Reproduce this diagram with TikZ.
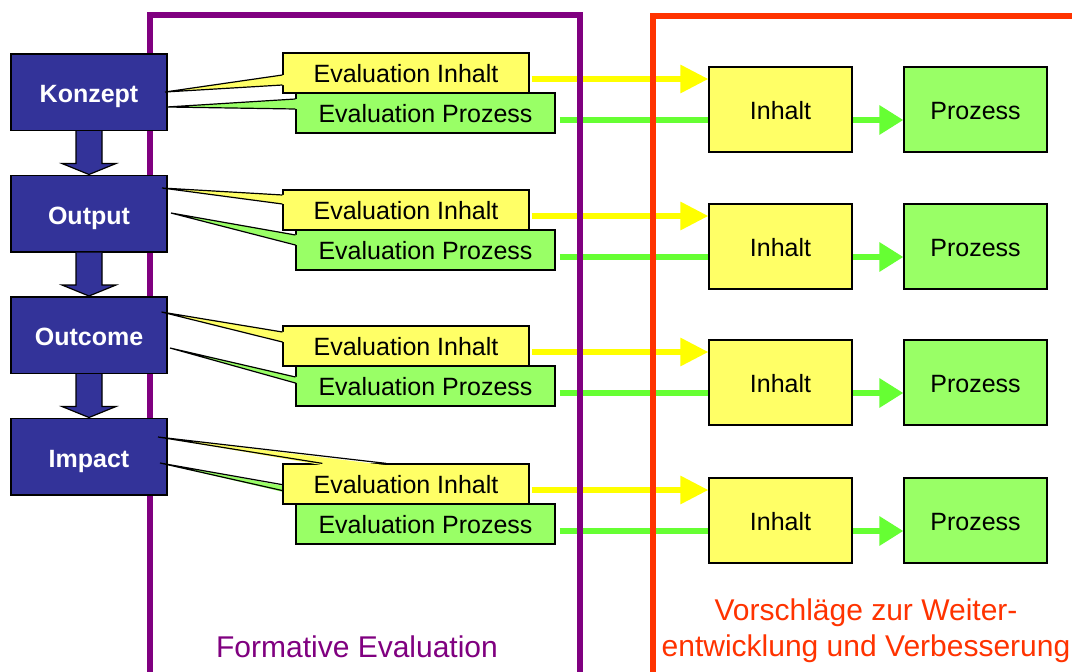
\documentclass[tikz,border=0pt]{standalone}
\usepackage{fontspec}
\setmainfont{Liberation Sans}
\usetikzlibrary{arrows.meta,calc}
\definecolor{cblue}{HTML}{333399}
\definecolor{cyfill}{HTML}{FFFF66}
\definecolor{cgfill}{HTML}{99FF66}
\definecolor{cyarr}{HTML}{FFFF00}
\definecolor{cgarr}{HTML}{66FF33}
\definecolor{cpurple}{HTML}{800080}
\definecolor{corange}{HTML}{FF3300}
\pgfdeclarelayer{bglayer}
\pgfdeclarelayer{arrowlayer}
\pgfdeclarelayer{framelayer}
\pgfsetlayers{bglayer,arrowlayer,framelayer,main}
\tikzset{
  stagebox/.style={draw=black, line width=1.5pt, fill=cblue, text=white,
    font=\fontsize{25}{30}\selectfont\bfseries, minimum width=156pt,
    minimum height=76.5pt, inner sep=0pt, text height=25pt, text depth=4pt},
  evalin/.style={draw=black, line width=1.2pt, fill=cyfill,
    font=\fontsize{25}{30}\selectfont, minimum width=246pt,
    minimum height=40pt, inner sep=0pt, text height=19pt, text depth=0pt},
  evalpr/.style={evalin, fill=cgfill, minimum width=259pt},
  resin/.style={draw=black, line width=1.2pt, fill=cyfill,
    font=\fontsize{25}{30}\selectfont, minimum width=143pt,
    minimum height=85pt, inner sep=0pt, text height=19pt, text depth=0pt},
  respr/.style={resin, fill=cgfill},
  yarr/.style={draw=cyarr, line width=6pt, -{Triangle[length=28pt,width=27pt]}},
  garr/.style={draw=cgarr, line width=6pt, -{Triangle[length=24pt,width=28pt]}},
  blockarr/.style={draw=black, line width=1.2pt, fill=cblue, line join=miter},
  wedgeline/.style={draw=black, line width=1.2pt},
  framepurple/.style={draw=cpurple, line width=6pt},
  frameorange/.style={draw=corange, line width=6pt},
  labeltext/.style={font=\fontsize{30}{36}\selectfont, align=center, inner sep=0pt},
}
\begin{document}
\begin{tikzpicture}[x=1pt,y=-1pt]
\useasboundingbox (0,0) rectangle (1072,672);
\begin{pgfonlayer}{bglayer}
  \fill[white] (0,0) rectangle (1072,672);
\end{pgfonlayer}

% stage boxes (left column)
\node[stagebox] (s1) at (89,92)    {Konzept};
\node[stagebox] (s2) at (89,213.5) {Output};
\node[stagebox] (s3) at (89,335)   {Outcome};
\node[stagebox] (s4) at (89,456.5) {Impact};
\foreach \a/\b in {s1/s2,s2/s3,s3/s4}
  \draw[blockarr] ($(\a.south)+(-13,0)$) -- ($(\b.north)+(-13,-11)$)
    -- ($(\b.north)+(-27,-11)$) -- (\b.north) -- ($(\b.north)+(27,-11)$)
    -- ($(\b.north)+(13,-11)$) -- ($(\a.south)+(13,0)$);

% result boxes
\foreach \i/\o in {1/0,2/137,3/273,4/411}{
  \node[resin] (ri\i) at (780.5,109.5+\o) {Inhalt};
  \node[respr] (rp\i) at (975.5,109.5+\o) {Prozess};
}

% Evaluation Prozess callouts (green)
\foreach \i/\o in {1/0,2/137,3/273,4/411}
  \node[evalpr] (ep\i) at (425.5,113+\o) {Evaluation Prozess};
\coordinate (tp1) at (167,107);
\coordinate (tp2) at (171,213);
\coordinate (tp3) at (170,348);
\coordinate (tp4) at (160,463);
\foreach \i/\ba/\bb in {1/-14/-4,2/-15/-5,3/-9/-3}{
  \fill[cgfill] (tp\i) -- ([shift={(1.8,\ba)}]ep\i.west) -- ([shift={(1.8,\bb)}]ep\i.west) -- cycle;
  \draw[wedgeline] ([shift={(0,\ba)}]ep\i.west) -- (tp\i) -- ([shift={(0,\bb)}]ep\i.west);
}
\fill[cgfill] (tp4) -- ([shift={(44,1.8)}]ep4.north west) -- ([shift={(93,1.8)}]ep4.north west) -- cycle;
\draw[wedgeline] ([shift={(44,0)}]ep4.north west) -- (tp4) -- ([shift={(93,0)}]ep4.north west);

% Evaluation Inhalt callouts (yellow)
\foreach \i/\o in {1/0,2/137,3/273,4/411}
  \node[evalin] (ei\i) at (406,73+\o) {Evaluation Inhalt};
\coordinate (ti1) at (165,92);
\coordinate (ti2) at (162,188);
\coordinate (ti3) at (161.5,312);
\coordinate (ti4) at (158,437);
\foreach \i/\ba/\bb in {1/2/12,2/-15/-6,3/-14/-4}{
  \fill[cyfill] (ti\i) -- ([shift={(1.8,\ba)}]ei\i.west) -- ([shift={(1.8,\bb)}]ei\i.west) -- cycle;
  \draw[wedgeline] ([shift={(0,\ba)}]ei\i.west) -- (ti\i) -- ([shift={(0,\bb)}]ei\i.west);
}
\fill[cyfill] (ti4) -- ([shift={(40,1.8)}]ei4.north west) -- ([shift={(104,1.8)}]ei4.north west) -- cycle;
\draw[wedgeline] ([shift={(40,0)}]ei4.north west) -- (ti4) -- ([shift={(104,0)}]ei4.north west);

% arrows (below frames and boxes)
\begin{pgfonlayer}{arrowlayer}
\foreach \i in {1,2,3,4}{
  \coordinate (ys\i) at ([shift={(2,6)}]ei\i.east);
  \draw[yarr] (ys\i) -- (ys\i -| ri\i.west);
  \coordinate (gs\i) at ([shift={(4,7)}]ep\i.east);
  \draw[garr] (gs\i) -- (gs\i -| rp\i.west);
}
\end{pgfonlayer}

% frames
\begin{pgfonlayer}{framelayer}
\coordinate (fp1) at (150,672);
\coordinate (fp2) at (150,15);
\coordinate (fp3) at (580,15);
\coordinate (fp4) at (580,672);
\draw[framepurple] (fp1) -- (fp2) -- (fp3) -- (fp4);
\coordinate (fo1) at (653,672);
\coordinate (fo2) at (653,16);
\coordinate (fo3) at (1072,16);
\draw[frameorange] (fo1) -- (fo2) -- (fo3);
\end{pgfonlayer}

% labels
\node[labeltext, text=cpurple, anchor=base] (lf) at (357,657) {Formative Evaluation};
\node[labeltext, text=corange] (lv) at (866,631) {Vorschläge zur Weiter-\\entwicklung und Verbesserung};
\end{tikzpicture}
\end{document}
